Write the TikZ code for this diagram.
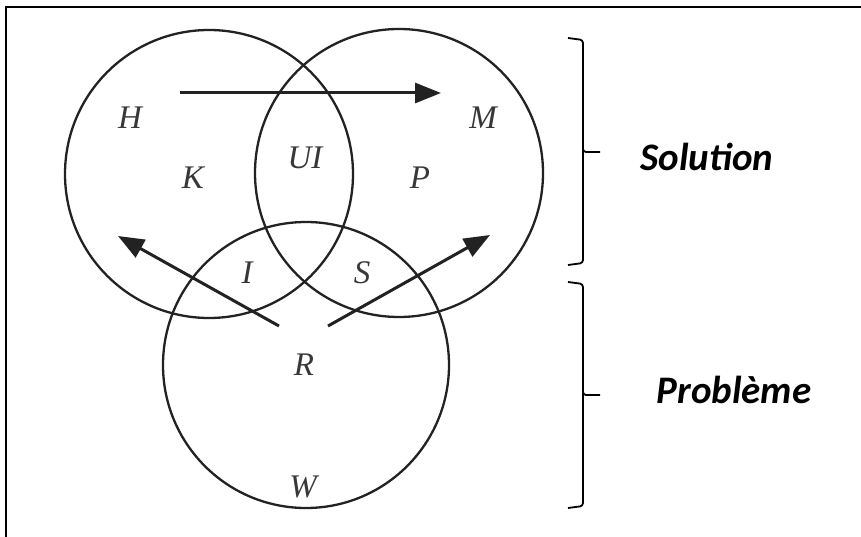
\documentclass[tikz,border=0pt]{standalone}
\usepackage{fontspec}
\setmainfont{Liberation Serif}
\newfontfamily\calib{Carlito}
\usetikzlibrary{arrows.meta}
\definecolor{ink}{HTML}{222222}
\begin{document}
\begin{tikzpicture}[x=1pt,y=-1pt,
  vennset/.style={circle,draw=ink,line width=2.3pt,minimum size=#1,inner sep=0pt},
  lbl/.style={font=\fontsize{33}{36}\selectfont\itshape,text=ink!90,inner sep=0pt},
  flow/.style={draw=ink,line width=3pt,-{Triangle[length=26pt,width=20pt]}},
  brk/.style={draw=black,line width=1.8pt,rounded corners=3pt},
  tag/.style={font=\calib\fontsize{39}{42}\selectfont\bfseries\itshape,inner sep=0pt}]
\useasboundingbox (0,0) rectangle (861,537);
\fill[white] (0,0) rectangle (861,537);
% frame
\draw[line width=2pt] (6,537) -- (6,7) -- (861,7);
% circles
\node[vennset=288pt] (cH) at (209,174) {};
\node[vennset=288pt] (cM) at (399,173) {};
\node[vennset=286pt] (cR) at (306,365) {};
% labels
\node[lbl] (H) at (130,118) {H};
\node[lbl] (M) at (483,118) {M};
\node[lbl] (K) at (193,178) {K};
\node[lbl] (UI) at (305,158) {UI};
\node[lbl] (P) at (420,178) {P};
\node[lbl] (I) at (247,273) {I};
\node[lbl] (S) at (362,273) {S};
\node[lbl] (R) at (304,365) {R};
\node[lbl] (W) at (303,487) {W};
% arrows
\coordinate (a1s) at (180,93);
\coordinate (a1e) at (441,93);
\coordinate (a2s) at (279,326);
\coordinate (a2e) at (118,236);
\coordinate (a3s) at (328,326);
\coordinate (a3e) at (490,235);
\draw[flow] (a1s) -- (a1e);
\draw[flow] (a2s) -- (a2e);
\draw[flow] (a3s) -- (a3e);
% brackets
\coordinate (b1t) at (568,38);
\coordinate (b1m) at (600,152);
\coordinate (b1b) at (568,265);
\draw[brk] (b1t) -- (583,40) -- (583,152) -- (b1m);
\draw[brk] (583,150) -- (583,263) -- (b1b);
\coordinate (b2t) at (568,282);
\coordinate (b2m) at (600,395);
\coordinate (b2b) at (568,508);
\draw[brk] (b2t) -- (583,284) -- (583,395) -- (b2m);
\draw[brk] (583,393) -- (583,506) -- (b2b);
\node[tag] (sol) at (707,157) {Solution};
\node[tag] (pro) at (734,390) {Problème};
\end{tikzpicture}
\end{document}
